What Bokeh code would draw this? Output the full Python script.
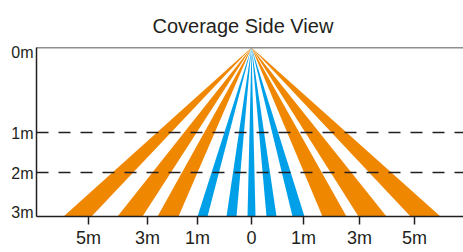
from bokeh.plotting import figure
from bokeh.models import Range1d, FixedTicker, Span, Title
from bokeh.embed import file_html
from bokeh.resources import INLINE

# ---- data (schematic units: horizontal offset from sensor, depth below ceiling) ----
# beam footprints at floor level: (left edge, right edge)
orange_left = [(-18.8, -16.0), (-13.4, -10.9), (-9.4, -7.3)]
blue_beams = [(-5.4, -4.4), (-2.5, -1.5), (-0.4, 0.4), (1.5, 2.5), (4.1, 5.3)]
orange_right = [(7.1, 9.5), (10.7, 13.5), (15.9, 18.9)]
floor_depth = 16.9
sensor_x = 0.0
sensor_y = 0.0

x_tick_pos = [-16.3, -10.4, -5.4, 0.0, 5.2, 10.8, 16.3]
x_tick_labels = ["5m", "3m", "1m", "0", "1m", "3m", "5m"]
y_tick_pos = [0.5, 8.6, 12.6, 16.5]
y_tick_labels = ["0m", "1m", "2m", "3m"]
dash_levels = [8.5, 12.5]
title_text = "Coverage Side View"

ORANGE = "#F08700"
BLUE = "#00A0E9"
DARK = "#231f20"

p = figure(width=463, height=252,
           x_range=Range1d(-21.5, 21.2), y_range=Range1d(floor_depth, 0),
           output_backend="svg", toolbar_location=None,
           min_border_left=36, min_border_right=0,
           min_border_top=47, min_border_bottom=36)
p.outline_line_color = None
p.xgrid.visible = False
p.ygrid.visible = False
p.background_fill_color = "white"
p.border_fill_color = "white"

p.title.text = ""
p.title.standoff = 0
p.add_layout(Title(text=title_text, align="left", offset=116, standoff=21,
                   text_font="Liberation Sans", text_font_size="20px",
                   text_font_style="normal", text_color=DARK), "above")

# beams as wedges from the sensor to the floor
xs, ys, colors = [], [], []
for group, col in ((orange_left, ORANGE), (blue_beams, BLUE), (orange_right, ORANGE)):
    for (l, r) in group:
        xs.append([sensor_x, l, r])
        ys.append([sensor_y, floor_depth, floor_depth])
        colors.append(col)
p.patches(xs, ys, fill_color=colors, line_color=None)

for lvl in dash_levels:
    p.add_layout(Span(location=lvl, dimension="width", line_color=DARK,
                      line_width=1.5, line_dash="12 10"))
# ceiling line
p.add_layout(Span(location=0, dimension="width", line_color=DARK, line_width=1.5))

xa = p.xaxis[0]
xa.ticker = FixedTicker(ticks=x_tick_pos)
xa.major_label_overrides = {v: t for v, t in zip(x_tick_pos, x_tick_labels)}
xa.axis_line_color = DARK
xa.axis_line_width = 1.5
xa.major_tick_line_color = DARK
xa.major_tick_line_width = 1.5
xa.major_tick_out = 8
xa.major_tick_in = 0
xa.minor_tick_line_color = None
xa.major_label_standoff = 3
xa.major_label_text_font = "Liberation Sans Narrow, Arial Narrow, Liberation Sans"
xa.major_label_text_font_size = "18px"
xa.major_label_text_color = DARK

ya = p.yaxis[0]
ya.ticker = FixedTicker(ticks=y_tick_pos)
ya.major_label_overrides = {v: t for v, t in zip(y_tick_pos, y_tick_labels)}
ya.axis_line_color = DARK
ya.axis_line_width = 1.5
ya.major_tick_line_color = None
ya.minor_tick_line_color = None
ya.major_tick_out = 0
ya.major_tick_in = 0
ya.major_label_standoff = 3
ya.major_label_text_font = "Liberation Sans"
ya.major_label_text_font_size = "16px"
ya.major_label_text_color = DARK

open("out.html", "w").write(file_html(p, INLINE))
